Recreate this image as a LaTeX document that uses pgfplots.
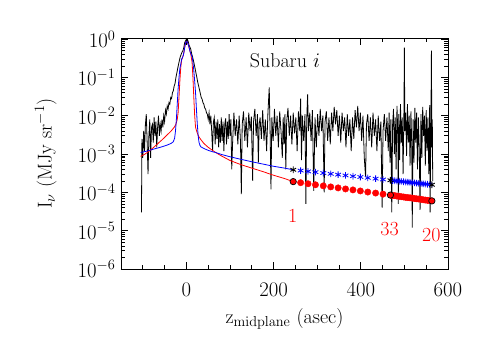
\documentclass[border=0pt]{standalone}
\usepackage{pgfplots}
\pgfplotsset{compat=1.18}
\newcommand{\bigfont}{\fontsize{20}{22}\selectfont}
\begin{document}
\begin{tikzpicture}
\path (-121pt,-77pt) rectangle (364pt,269pt);
\begin{axis}[
  at={(0,0)}, anchor=south west,
  scale only axis, width=327pt, height=231pt,
  xmin=-150, xmax=600,
  ymode=log, ymin=1e-6, ymax=1.07,
  xtick={-200,0,200,400,600}, minor x tick num=3,
  ytick={1e-6,1e-5,1e-4,1e-3,1e-2,1e-1,1},
  major tick length=7pt, minor tick length=4pt,
  tick style={black, line width=0.6pt},
  axis line style={line width=0.8pt},
  tick label style={font=\bigfont},
  xticklabel style={yshift=-11pt},
  yticklabel style={xshift=-2pt},
  label style={font=\bigfont},
  xlabel={z$_{\mathrm{midplane}}$ (asec)},
  ylabel={I$_\nu$ (MJy sr$^{-1}$)},
  xlabel style={at={(axis description cs:0.5,-0.215)}, anchor=center},
  ylabel style={at={(axis description cs:-0.23,0.5)}, anchor=center},
]
% observed profile
\addplot[black, line width=0.8pt] coordinates {
(-103,3e-5) (-102,2.5e-3) (-100,8e-4) (-98,4e-3) (-96,1.2e-3) (-94,6e-3) (-92,1.1e-2)
(-90,2e-3) (-88,3e-4) (-86,3e-3) (-84,8e-3) (-82,8e-4) (-80,5e-3) (-78,6e-3) (-76,2e-3)
(-74,9e-3) (-72,3e-3) (-70,7e-3) (-68,1.5e-3) (-66,5e-3) (-64,1e-2) (-62,3e-3) (-60,6e-3)
(-58,4e-3) (-56,8e-3) (-54,5e-3) (-52,1e-2) (-50,7e-3) (-48,1.4e-2) (-46,1.1e-2)
(-44,1.8e-2) (-42,1.5e-2) (-40,2.2e-2) (-38,2e-2) (-36,3e-2) (-34,2.8e-2) (-32,4e-2)
(-30,4.5e-2) (-28,6e-2) (-26,7e-2) (-24,0.1) (-22,0.13) (-20,0.17) (-18,0.22) (-16,0.28)
(-14,0.35) (-12,0.4) (-10,0.46) (-8,0.5) (-6,0.6) (-4,0.8) (-2,0.9) (0,1.0) (1,0.85) (2,1.0)
(4,0.88) (6,0.7) (8,0.62) (10,0.55) (12,0.42) (14,0.35) (16,0.28) (18,0.22) (20,0.17)
(22,0.13) (24,0.1) (26,0.075) (28,0.06) (30,0.048) (32,0.038) (34,0.03) (36,0.027)
(38,0.022) (40,0.02) (42,0.016) (44,0.015) (46,0.012) (48,0.011) (50,0.008) (52,0.012)
(54,0.006) (56,0.01) (58,0.004) (60,0.0012) (62,0.007) (64,0.009) (66,0.0018) (68,0.007)
(70,0.0025) (72,0.008) (74,0.0015) (76,0.006) (78,0.002) (80,0.009) (82,0.0022) (84,0.007)
(86,0.0012) (88,0.006) (90,0.0085) (92,0.0018) (94,0.007) (96,0.0025) (98,0.011) (100,0.003)
(102,0.008) (104,0.0004) (106,0.002) (109,0.012) (112,0.003) (115,0.008) (118,0.0018) (121,0.01)
(124,0.0022) (126,0.00009) (128,0.006) (131,0.013) (134,0.0022) (137,0.009) (140,0.0015)
(143,0.012) (146,0.004) (149,0.0095) (152,0.0002) (154,0.007) (157,0.015) (160,0.003)
(163,0.011) (165,0.0006) (167,0.006) (169,0.009) (172,0.0025) (175,0.014) (178,0.0022) (181,0.008)
(184,0.0012) (187,0.012) (190,0.055) (192,0.004) (194,0.00012) (196,0.009) (199,0.0022)
(202,0.015) (205,0.003) (208,0.01) (211,0.0015) (214,0.013) (217,0.004) (220,0.0008)
(222,0.009) (224,0.0018) (226,0.011) (228,0.0004) (230,0.007) (233,0.016) (236,0.003) (239,0.01)
(242,0.0018) (245,0.012) (248,0.0035) (251,0.009) (254,0.0012) (257,0.013) (260,0.004)
(262,0.028) (264,0.0007) (266,0.01) (269,0.0022) (272,0.011) (274,0.00005) (276,0.008)
(278,0.036) (280,0.004) (283,0.012) (286,0.0022) (289,0.014) (292,0.00011) (295,0.009)
(298,0.0015) (301,0.011) (304,0.003) (307,0.015) (310,0.004) (313,0.01) (316,0.0001)
(318,0.007) (321,0.013) (324,0.0022) (327,0.009) (330,0.0018) (333,0.012) (336,0.004)
(339,0.017) (342,0.006) (345,0.014) (348,0.003) (351,0.01) (354,0.002) (357,0.012)
(360,0.004) (363,0.009) (366,0.0015) (369,0.011) (372,0.003) (375,0.008) (378,0.0012)
(381,0.009) (384,0.0025) (387,0.014) (390,0.005) (393,0.018) (396,0.004) (399,0.012)
(402,0.0022) (405,0.01) (408,0.0008) (411,0.00025) (413,0.006) (416,0.011) (419,0.0022)
(422,0.009) (425,0.0015) (428,0.012) (431,0.003) (434,0.008) (437,0.0012) (440,0.01)
(443,0.0022) (446,0.007) (449,0.00004) (451,0.004) (454,0.011) (457,0.0022) (460,0.009)
(463,0.0012) (465,0.012) (467,0.0006) (469,0.008) (471,0.00003) (473,0.006) (475,0.015)
(477,0.001) (479,0.009) (481,0.0004) (483,0.018) (485,0.003) (486,0.00005) (487,0.011) (489,0.0007)
(491,0.02) (493,0.002) (495,0.009) (497,0.0003) (499,0.015) (500,0.6) (501,0.004)
(503,0.012) (505,0.0009) (507,0.02) (509,0.002) (511,0.01) (513,0.0005) (515,0.013)
(517,0.0015) (518,0.000012) (520,0.008) (522,0.0006) (524,0.016) (526,0.002) (528,0.012)
(530,0.0004) (532,0.009) (534,0.0015) (536,0.000035) (538,0.011) (540,0.0008) (542,0.017)
(544,0.003) (546,0.01) (548,0.0005) (550,0.014) (552,0.0012) (554,0.009) (556,0.0003)
(558,0.019) (559,0.00003) (561,0.012) (562,0.5) (563,0.0015) (564,0.008) (565,0.0002)
};
% model 1 (red)
\addplot[red, line width=0.8pt] coordinates {
(-105,8.7e-4) (-95,1.0e-3) (-85,1.2e-3) (-75,1.5e-3) (-65,1.9e-3) (-55,2.4e-3)
(-45,3.1e-3) (-35,4.0e-3) (-28,5.0e-3) (-24,6.0e-3) (-21,8e-3) (-19,1.2e-2) (-17,3e-2)
(-15,8e-2) (-13,0.18) (-11,0.28) (-9,0.33) (-7,0.38) (-5,0.5) (-3,0.7) (-1,0.85) (1,0.87)
(3,0.8) (5,0.68) (7,0.55) (9,0.45) (11,0.35) (13,0.25) (15,0.1) (17,0.03) (19,0.01)
(21,5e-3) (24,3.8e-3) (28,2.9e-3) (33,2.4e-3) (40,1.9e-3) (50,1.5e-3) (60,1.25e-3)
(67,1.1e-3) (80,9e-4) (100,6.8e-4) (125,5.3e-4) (150,4.3e-4) (175,3.5e-4) (200,2.8e-4)
(225,2.3e-4) (245,1.91e-4)
};
% model 2 (blue)
\addplot[blue, line width=0.8pt] coordinates {
(-105,1.1e-3) (-90,1.2e-3) (-75,1.35e-3) (-60,1.5e-3) (-45,1.7e-3) (-35,1.9e-3)
(-30,2.1e-3) (-27,2.6e-3) (-25,4e-3) (-23,8e-3) (-21,2e-2) (-19,5e-2) (-17,0.1)
(-15,0.17) (-13,0.22) (-11,0.3) (-9,0.33) (-7,0.38) (-5,0.5) (-3,0.7) (-1,0.85) (1,0.87)
(3,0.8) (5,0.68) (7,0.55) (9,0.45) (11,0.4) (13,0.35) (15,0.25) (17,0.15) (19,0.08)
(21,0.04) (23,0.015) (25,6e-3) (27,3e-3) (29,2e-3) (31,1.7e-3) (33,1.55e-3) (40,1.4e-3)
(50,1.25e-3) (60,1.15e-3) (67,1.1e-3) (80,9.8e-4) (100,8.5e-4) (125,7.3e-4) (150,6.3e-4)
(175,5.5e-4) (200,4.8e-4) (225,4.3e-4) (245,3.89e-4)
};
% blue asterisks
\addplot[blue, only marks, mark=asterisk, mark size=3.3pt, line width=0.8pt] coordinates {
(262,3.71e-4) (279,3.53e-4) (296,3.37e-4) (314,3.20e-4) (331,3.05e-4) (348,2.90e-4)
(365,2.77e-4) (382,2.64e-4) (399,2.52e-4) (416,2.40e-4) (434,2.28e-4) (451,2.17e-4)
(473,2.04e-4) (478,2.01e-4) (483,1.98e-4) (488,1.95e-4) (493,1.93e-4) (498,1.90e-4)
(503,1.87e-4) (508,1.85e-4) (513,1.82e-4) (518,1.79e-4) (523,1.77e-4) (528,1.75e-4)
(533,1.72e-4) (538,1.70e-4) (543,1.67e-4) (548,1.65e-4) (553,1.63e-4) (558,1.60e-4)
};
% red dots
\addplot[red, only marks, mark=*, mark size=3.2pt] coordinates {
(262,1.79e-4) (279,1.68e-4) (296,1.58e-4) (314,1.48e-4) (331,1.39e-4) (348,1.31e-4)
(365,1.23e-4) (382,1.16e-4) (399,1.09e-4) (416,1.02e-4) (434,9.6e-5) (451,9.0e-5)
(473,8.3e-5) (478,8.2e-5) (483,8.0e-5) (488,7.9e-5) (493,7.7e-5) (498,7.6e-5)
(503,7.4e-5) (508,7.3e-5) (513,7.2e-5) (518,7.1e-5) (523,6.9e-5) (528,6.8e-5)
(533,6.7e-5) (538,6.6e-5) (543,6.4e-5) (548,6.3e-5) (553,6.2e-5) (558,6.1e-5)
};
% highlighted points
\addplot[black, only marks, mark=asterisk, mark size=3.3pt, line width=0.9pt] coordinates {
(245,3.89e-4) (468,2.07e-4) (563,1.58e-4)
};
\addplot[black, only marks, mark=*, mark size=3.2pt, mark options={fill=red, line width=0.7pt}] coordinates {
(245,1.91e-4) (468,8.5e-5) (563,6.0e-5)
};
\node[red, font=\bigfont] at (axis cs:244,2.45e-5) {1};
\node[red, font=\bigfont] at (axis cs:466,1.12e-5) {33};
\node[red, font=\bigfont] at (axis cs:562,7.8e-6) {20};
\node[font=\bigfont] at (axis cs:226,0.28) {Subaru $i$};
\end{axis}
\end{tikzpicture}
\end{document}
